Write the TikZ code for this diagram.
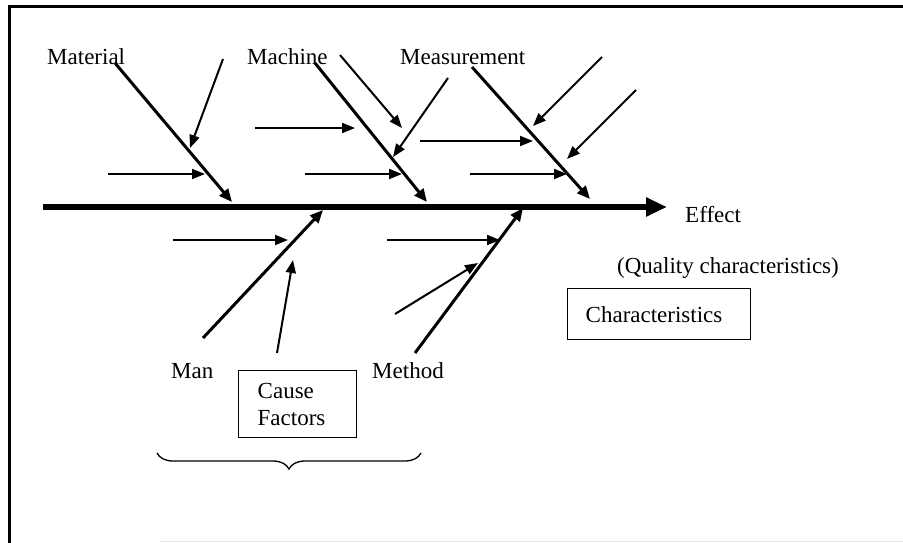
\documentclass[tikz,border=0pt]{standalone}
\usepackage{fontspec}
\setmainfont{Liberation Serif}
\usetikzlibrary{arrows.meta,decorations.pathreplacing}

\begin{document}
\begin{tikzpicture}[x=1pt,y=-1pt,
  lbl/.style={anchor=base west,inner sep=0pt,font=\fontsize{23}{27}\selectfont},
  boxed/.style={draw,line width=1.4pt,rectangle,anchor=north west,inner ysep=0pt,
    align=left,font=\fontsize{23}{27}\selectfont},
  bone/.style={line width=3pt,-{Triangle[length=13pt,width=11pt]}},
  twig/.style={line width=2pt,-{Triangle[length=13pt,width=10pt]}},
  spine/.style={line width=6pt,-{Triangle[length=21pt,width=18pt]}},
  framebar/.style={line width=3pt}]

\useasboundingbox (0,0) rectangle (903,543);

% frame
\coordinate (fTL) at (9,7);
\coordinate (fTR) at (903,7);
\coordinate (fBL) at (9,543);
\draw[framebar] (fTR) -- (fTL) -- (fBL);
\coordinate (fB1) at (160,541);
\coordinate (fB2) at (903,541);
\draw[gray!20,line width=0.8pt] (fB1) -- (fB2);

% category labels
\node[lbl] (material) at (47,65) {Material};
\node[lbl] (machine) at (247,65) {Machine};
\node[lbl] (measure) at (400,65) {Measurement};
\node[lbl] (man) at (171,378) {Man};
\node[lbl] (method) at (372,378) {Method};
\node[lbl] (effect) at (685,222) {Effect};
\node[lbl] (quality) at (617,273) {(Quality characteristics)};

% boxes
\node[boxed,minimum width=183pt,minimum height=51pt,text width=147pt,inner xsep=18pt]
  (charbox) at (567,288) {Characteristics};
\node[boxed,minimum width=118pt,minimum height=67pt,text width=80pt,inner xsep=19pt]
  (causebox) at (238,370) {Cause\\Factors};

% spine
\coordinate (sp0) at (43,207);
\coordinate (sp1) at (667,207);
\draw[spine] (sp0) -- (sp1);

% main bones
\coordinate (matA) at (115,63);  \coordinate (matB) at (232,202);
\coordinate (macA) at (315,63);  \coordinate (macB) at (427,202);
\coordinate (meaA) at (472,67);  \coordinate (meaB) at (590,199);
\coordinate (manA) at (203,338); \coordinate (manB) at (323,210);
\coordinate (metA) at (415,353); \coordinate (metB) at (523,208);
\draw[bone] (matA) -- (matB);
\draw[bone] (macA) -- (macB);
\draw[bone] (meaA) -- (meaB);
\draw[bone] (manA) -- (manB);
\draw[bone] (metA) -- (metB);

% sub-causes
\coordinate (t1a) at (223,59);  \coordinate (t1b) at (190,148);
\coordinate (t2a) at (108,174); \coordinate (t2b) at (205,174);
\coordinate (t3a) at (255,128); \coordinate (t3b) at (355,128);
\coordinate (t4a) at (340,55);  \coordinate (t4b) at (402,128);
\coordinate (t5a) at (448,78);  \coordinate (t5b) at (393,157);
\coordinate (t6a) at (305,174); \coordinate (t6b) at (402,174);
\coordinate (t7a) at (420,141); \coordinate (t7b) at (533,141);
\coordinate (t8a) at (602,57);  \coordinate (t8b) at (533,126);
\coordinate (t9a) at (636,90);  \coordinate (t9b) at (567,159);
\coordinate (t10a) at (470,174); \coordinate (t10b) at (567,174);
\coordinate (t11a) at (173,240); \coordinate (t11b) at (288,240);
\coordinate (t12a) at (277,353); \coordinate (t12b) at (293,260);
\coordinate (t13a) at (387,240); \coordinate (t13b) at (500,240);
\coordinate (t14a) at (395,314); \coordinate (t14b) at (478,263);
\foreach \i in {1,...,14} {
  \draw[twig] (t\i a) -- (t\i b);
}

% brace under the cause side
\coordinate (brR) at (421,453);
\coordinate (brL) at (157,453);
\draw[line width=1.3pt,decorate,decoration={brace,amplitude=16pt}] (brR) -- (brL);

\end{tikzpicture}
\end{document}
